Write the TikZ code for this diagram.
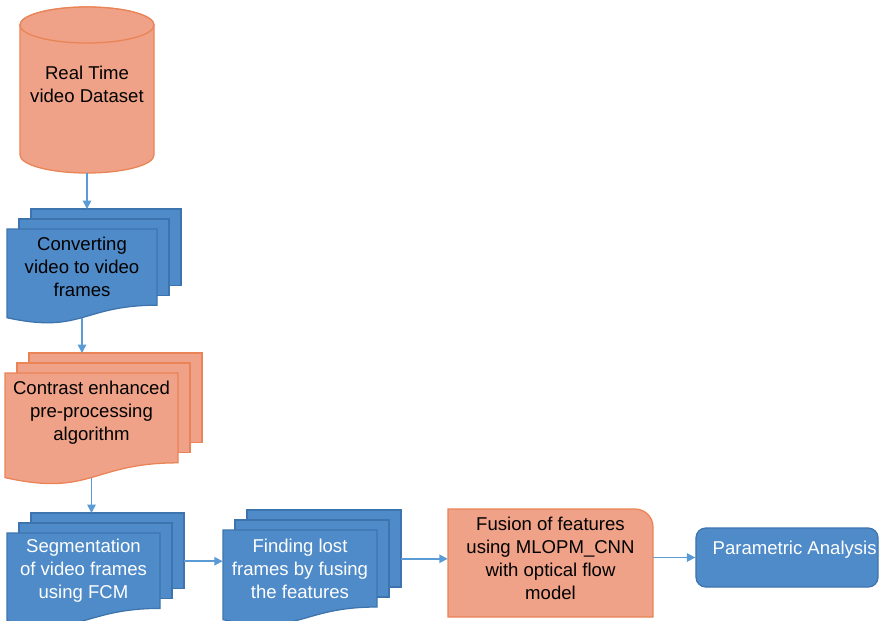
\documentclass[tikz,border=0pt]{standalone}
\usepackage{fontspec}
\setmainfont{Liberation Sans}
\usetikzlibrary{arrows.meta}

\definecolor{docblue}{HTML}{4F8BC8}
\definecolor{docblueline}{HTML}{3E74AE}
\definecolor{docorange}{HTML}{EFA287}
\definecolor{docorangeline}{HTML}{EA8456}
\definecolor{arrowblue}{HTML}{5B9BD5}

% stacked pages: name, sheet style, left, top, right, height, text style, text
\newcommand{\multidoc}[8]{%
  \draw[#2] (#3+24,#4-20) rectangle (#5+24,#4+0.802*#6-20);
  \draw[#2] (#3+12,#4-10) rectangle (#5+12,#4+0.802*#6-10);
  \draw[#2] (#3,#4) -- (#5,#4) -- (#5,#4+0.802*#6)
    .. controls ({(#3+#5)/2},#4+0.802*#6) and ({(#3+#5)/2},#4+1.107*#6) .. (#3,#4+0.934*#6) -- cycle;
  \node[#7, minimum width={(#5-#3)*0.025cm}, minimum height={0.802*#6*0.025cm}]
    (#1) at ({(#3+#5)/2},{#4+0.401*#6}) {#8};
  \coordinate (#1in)   at ({(#3+#5)/2},#4-20);
  \coordinate (#1out)  at ({(#3+#5)/2},{#4+0.933*#6});
  \coordinate (#1side) at (#5+24,{#4+0.3*#6});
}

\begin{document}
\begin{tikzpicture}[x=0.025cm, y=-0.025cm,
  bluesheet/.style={fill=docblue, draw=docblueline, line width=0.9pt},
  orangesheet/.style={fill=docorange, draw=docorangeline, line width=0.9pt},
  darktext/.style={align=center, inner sep=0pt, font=\fontsize{13.2}{16.3}\selectfont, text=black},
  lighttext/.style={darktext, text=white},
  endbox/.style={rectangle, rounded corners=7pt, bluesheet, minimum width=4.55cm,
    minimum height=1.475cm, lighttext, text width=4.48cm, align=flush right,
    text height=9pt, text depth=13.8pt},
  arr/.style={-{Triangle[length=6pt,width=6pt]}, line width=1.1pt, draw=arrowblue}
]
  \useasboundingbox (0,0) rectangle (880,620);

  % data store drum
  \draw[orangesheet] (20,25) -- (20,155)
    arc[start angle=180, end angle=360, x radius=1.675cm, y radius=0.45cm]
    -- (154,25) arc[start angle=0, end angle=180, x radius=1.675cm, y radius=0.45cm] -- cycle;
  \draw[orangesheet] (87,25) ellipse [x radius=1.675cm, y radius=0.45cm];
  \node[darktext, minimum width=3.35cm, minimum height=4.45cm] (data) at (87,84)
    {Real Time\\video Dataset};

  \multidoc{conv}{bluesheet}{7}{229}{157}{95}{darktext}{Converting\\video to video\\frames}
  \multidoc{contr}{orangesheet}{5}{373}{178}{112}{darktext, yshift=4pt}{Contrast enhanced\\pre-processing\\algorithm}
  \multidoc{seg}{bluesheet}{7}{533}{160}{94}{lighttext}{Segmentation\\of video frames\\using FCM}
  \multidoc{find}{bluesheet}{223}{530}{377}{96}{lighttext}{Finding lost\\frames by fusing\\the features}

  % fusion box, only the top right corner is round
  \draw[orangesheet] (448,617) -- (448,509) -- (635,509)
    arc[start angle=90, end angle=0, radius=0.45cm] -- (653,617) -- cycle;
  \node[darktext, minimum width=5.125cm] (fusion) at (550.5,558)
    {Fusion of features\\using MLOPM\_CNN\\with optical flow\\model};

  \node[endbox] (param) at (787,557.5) {Parametric Analysis};

  \draw[arr] (data.south) -- (data.south |- convin);
  \draw[arr] (convout) -- (convout |- contrin);
  \draw[arr] (controut) -- (controut |- segin);
  \draw[arr] (segside) -- (segside -| find.west);
  \draw[arr] (findside) -- (findside -| fusion.west);
  \draw[arr] (fusion.east |- param.west) -- (param.west);
\end{tikzpicture}
\end{document}
